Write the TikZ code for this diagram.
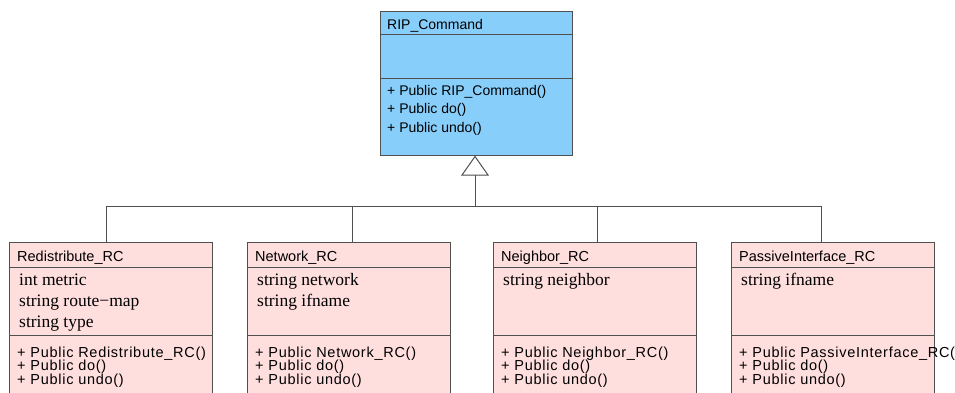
\documentclass[tikz,border=0pt]{standalone}
\usepackage{fontspec}
\setmainfont{Liberation Serif}
\newfontfamily\arialf{Liberation Sans}
\newfontfamily\arialsp[LetterSpace=5]{Liberation Sans}
\definecolor{ripblue}{RGB}{135,206,250}
\definecolor{rcpink}{RGB}{255,222,222}
\definecolor{edgegray}{RGB}{80,80,80}
\begin{document}
\begin{tikzpicture}[x=1pt,y=-1pt,
  topbox/.style={draw=edgegray, line width=1.1pt, fill=ripblue, rectangle, inner sep=0pt,
     minimum width=192pt, minimum height=144pt, anchor=north west},
  rcbox/.style={draw=edgegray, line width=1.1pt, fill=rcpink, rectangle, inner sep=0pt,
     minimum width=203pt, minimum height=180pt, anchor=north west},
  sepline/.style={draw=edgegray, line width=1pt},
  conn/.style={draw=edgegray, line width=1pt},
  toptxt/.style={inner sep=0pt, anchor=base west, font=\arialf\fontsize{14}{14}\selectfont},
  rctitle/.style={inner sep=0pt, anchor=base west, font=\arialf\fontsize{14.5}{14.5}\selectfont},
  rcattr/.style={inner sep=0pt, anchor=base west, font=\fontsize{17.5}{17.5}\selectfont},
  rcmeth/.style={inner sep=0pt, anchor=base west, font=\arialsp\fontsize{14.5}{14.5}\selectfont},
]
\useasboundingbox (0,0) rectangle (955,392);
\clip (0,0) rectangle (955,392);

% ---------- top class ----------
\node[topbox] (rip) at (380,11) {};
\draw[sepline] ([yshift=-23pt]rip.north west) -- ([yshift=-23pt]rip.north east);
\draw[sepline] ([yshift=-67pt]rip.north west) -- ([yshift=-67pt]rip.north east);
\node[toptxt] (riptitle) at (387,29) {RIP\_Command};
\node[toptxt] (ripm1) at (387,95) {+ Public RIP\_Command()};
\node[toptxt] (ripm2) at (387,113.5) {+ Public do()};
\node[toptxt] (ripm3) at (387,132) {+ Public undo()};

% ---------- generalization arrow ----------
\coordinate (apex) at (475,156.5);
\coordinate (tl) at (462,175);
\coordinate (tr) at (488,175);
\coordinate (tbase) at (475,175);
\coordinate (bar) at (475,206);
\coordinate (j1) at (106,206);
\coordinate (j2) at (352,206);
\coordinate (j3) at (597,206);
\coordinate (j4) at (821,206);

% ---------- subclasses ----------
\node[rcbox] (red) at (9,242) {};
\node[rcbox] (net) at (247,242) {};
\node[rcbox] (nei) at (493,242) {};
\node[rcbox] (pas) at (731,242) {};

\foreach \b in {red,net,nei,pas}{
  \draw[sepline] ([yshift=-25pt]\b.north west) -- ([yshift=-25pt]\b.north east);
  \draw[sepline] ([yshift=-93pt]\b.north west) -- ([yshift=-93pt]\b.north east);
}

\draw[conn, fill=white] (apex) -- (tr) -- (tl) -- cycle;
\draw[conn] (tbase) -- (bar);
\draw[conn] (j1) -- (j4);
\draw[conn] (j1) -- (j1 |- red.north);
\draw[conn] (j2) -- (j2 |- net.north);
\draw[conn] (j3) -- (j3 |- nei.north);
\draw[conn] (j4) -- (j4 |- pas.north);

% Redistribute_RC
\node[rctitle] (redt) at (17,261) {Redistribute\_RC};
\node[rcattr] (reda1) at (19,285) {int metric};
\node[rcattr] (reda2) at (19,306.5) {string route−map};
\node[rcattr] (reda3) at (19,327.5) {string type};
\node[rcmeth] (redm1) at (17,357) {+ Public Redistribute\_RC()};
\node[rcmeth] (redm2) at (17,370.5) {+ Public do()};
\node[rcmeth] (redm3) at (17,384) {+ Public undo()};

% Network_RC
\node[rctitle] (nett) at (255,261) {Network\_RC};
\node[rcattr] (neta1) at (257,285) {string network};
\node[rcattr] (neta2) at (257,306.5) {string ifname};
\node[rcmeth] (netm1) at (255,357) {+ Public Network\_RC()};
\node[rcmeth] (netm2) at (255,370.5) {+ Public do()};
\node[rcmeth] (netm3) at (255,384) {+ Public undo()};

% Neighbor_RC
\node[rctitle] (neit) at (501,261) {Neighbor\_RC};
\node[rcattr] (neia1) at (503,285) {string neighbor};
\node[rcmeth] (neim1) at (501,357) {+ Public Neighbor\_RC()};
\node[rcmeth] (neim2) at (501,370.5) {+ Public do()};
\node[rcmeth] (neim3) at (501,384) {+ Public undo()};

% PassiveInterface_RC
\node[rctitle] (past) at (739,261) {PassiveInterface\_RC};
\node[rcattr] (pasa1) at (741,285) {string ifname};
\node[rcmeth] (pasm1) at (739,357) {+ Public PassiveInterface\_RC()};
\node[rcmeth] (pasm2) at (739,370.5) {+ Public do()};
\node[rcmeth] (pasm3) at (739,384) {+ Public undo()};
\end{tikzpicture}
\end{document}
